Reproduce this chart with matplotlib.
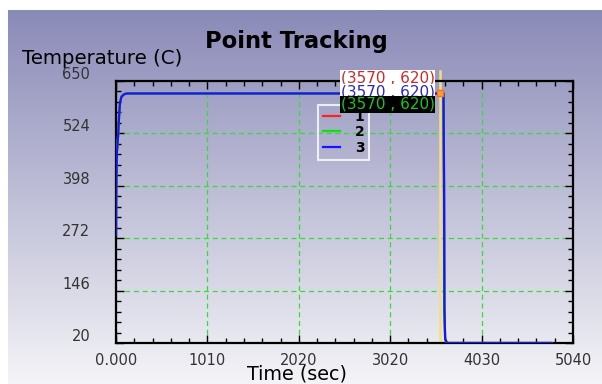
import numpy as np
import matplotlib.pyplot as plt
from matplotlib.ticker import AutoMinorLocator
from matplotlib.transforms import ScaledTranslation

# temperature history of the tracked points (all three sit on top of each other)
time_s = [0, 3, 10, 22, 35, 44, 60, 88, 120, 3570, 3612, 3618, 3622, 3630, 3650, 4800]
temp_c = [280, 400, 480, 515, 570, 597, 612, 618, 620, 620, 620, 400, 100, 30, 20, 20]
series = ['1', '2', '3']
series_colors = ['#ff2020', '#10e010', '#1414ff']

track_t = 3570
track_T = 620

x_ticks = [0, 1008, 2016, 3024, 4032, 5040]
x_labels = ['0.000', '1010', '2020', '3020', '4030', '5040']
y_ticks = [20, 146, 272, 398, 524, 650]

W, H = 602, 384
fig = plt.figure(figsize=(W / 100, H / 100), dpi=100)

# lavender to white background panel
bg = fig.add_axes([8 / W, 0, 1 - 8 / W, 1 - 10 / H], zorder=-10)
top = np.array([138, 138, 184]) / 255
bot = np.array([244, 244, 247]) / 255
g = np.linspace(0, 1, 256)[:, None, None]
bg.imshow(top + (bot - top) * g, aspect='auto', extent=[0, 1, 0, 1])
bg.axis('off')

ax = fig.add_axes([116 / W, 41 / H, 457 / W, 262 / H])
ax.patch.set_visible(False)

for name, c in zip(series, series_colors):
    ax.plot(time_s, temp_c, color=c, lw=1.6, label=name, zorder=3)

ax.set_xlim(0, 5040)
ax.set_ylim(20, 650)
ax.set_xticks(x_ticks, x_labels)
ax.set_yticks(y_ticks, [str(v) for v in y_ticks])
ax.xaxis.set_minor_locator(AutoMinorLocator(5))
ax.yaxis.set_minor_locator(AutoMinorLocator(5))
ax.grid(True, which='major', color='#33dd33', ls=(0, (4, 3)), lw=0.9)
ax.set_axisbelow(True)

ax.tick_params(which='both', direction='in', top=True, right=True, width=1,
               color='black', labelcolor='#333333', labelsize=10.5)
ax.tick_params(which='major', length=6)
ax.tick_params(which='minor', length=3.5)
ax.tick_params(axis='x', pad=7.5)
ax.tick_params(axis='y', pad=18.5)
for lab in ax.get_yticklabels():
    lab.set_transform(lab.get_transform() + ScaledTranslation(0, 8 / 100, fig.dpi_scale_trans))
for sp in ax.spines.values():
    sp.set_linewidth(1.6)
    sp.set_color('black')

# tracking cursor
ax.axvline(track_t, ymax=1.04, clip_on=False, color='#f2e07a', lw=1.8, zorder=2)
ax.plot(track_t, track_T, marker='s', ms=5, mfc='#ffa040', mec='#ff7010',
        zorder=7, clip_on=False)

leg = ax.legend(loc='upper left', bbox_to_anchor=(318 / W, 1 - 105 / H),
                bbox_transform=fig.transFigure, prop={'weight': 'bold', 'size': 10},
                handlelength=1.2, handletextpad=1.1, labelspacing=0.1,
                borderpad=0.35, borderaxespad=0, fancybox=False,
                edgecolor='white', facecolor='none')
leg.get_frame().set_linewidth(1.5)
leg.set_zorder(5)

readouts = [('#d02828', 'white', 15.5), ('#2828c8', 'white', 1.5), ('#18c818', 'black', -11)]
for col, face, dy in readouts:
    ax.annotate(f'({track_t} , {track_T})', xy=(track_t, track_T), xytext=(-5, dy),
                textcoords='offset pixels', ha='right', va='center', color=col,
                fontsize=11, annotation_clip=False, zorder=6,
                bbox=dict(boxstyle='square,pad=0.05', fc=face, ec='none'))

fig.text(296 / W, 1 - 48 / H, 'Point Tracking', ha='center', va='baseline',
         fontsize=16.3, fontweight='bold')
fig.text(22 / W, 1 - 64 / H, 'Temperature (C)', ha='left', va='baseline', fontsize=14.2)
fig.text(297 / W, 1 - 380 / H, 'Time (sec)', ha='center', va='baseline', fontsize=13.8)

fig.savefig('out.png', dpi=100)
